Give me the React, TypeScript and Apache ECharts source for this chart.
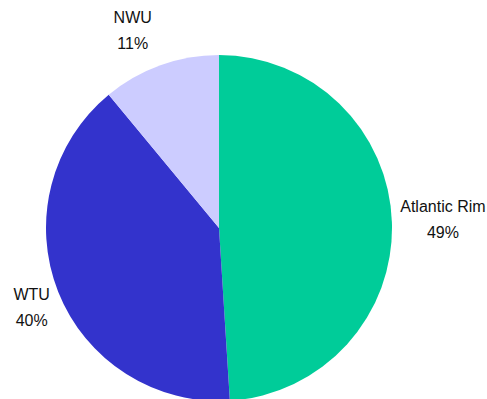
import React, { useEffect, useRef } from "react";
import * as echarts from "echarts";

const categories = ["Atlantic Rim", "WTU", "NWU"];
const values = [49, 40, 11];
const colors = ["#00CC99", "#3333CC", "#CCCCFF"];
const labelWidths = [86, 38, 38];
const labelOffsets: [number, number][] = [
  [-5, -3],
  [5, 13],
  [-1, -27],
];

const FONT = "'Liberation Sans', Arial, sans-serif";

export default function App() {
  const ref = useRef<HTMLDivElement>(null);
  useEffect(() => {
    document.body.style.margin = "0";
    if (!ref.current) return;
    const chart = echarts.init(ref.current, null, { renderer: "svg" });
    chart.setOption({
      animation: false,
      backgroundColor: "#ffffff",
      series: [
        {
          type: "pie",
          center: [219, 228],
          radius: 173,
          startAngle: 90,
          clockwise: true,
          avoidLabelOverlap: false,
          itemStyle: { borderWidth: 0 },
          emphasis: { disabled: true },
          labelLine: { show: false, length: 8, length2: 0 },
          label: {
            position: "outside",
            fontFamily: FONT,
            fontSize: 16,
            color: "#111111",
          },
          labelLayout: (params: any) => {
            const o = labelOffsets[params.dataIndex];
            return { dx: o[0], dy: o[1] };
          },
          data: categories.map((c, i) => ({
            name: c,
            value: values[i],
            itemStyle: { color: colors[i] },
            label: {
              formatter: "{t|{b}}\n{t|{d}%}",
              rich: {
                t: {
                  width: labelWidths[i],
                  align: "center",
                  fontFamily: FONT,
                  fontSize: 16,
                  lineHeight: 26,
                  color: "#111111",
                },
              },
            },
          })),
        },
      ],
    });
    return () => chart.dispose();
  }, []);
  return <div ref={ref} style={{ width: 487, height: 399 }} />;
}
